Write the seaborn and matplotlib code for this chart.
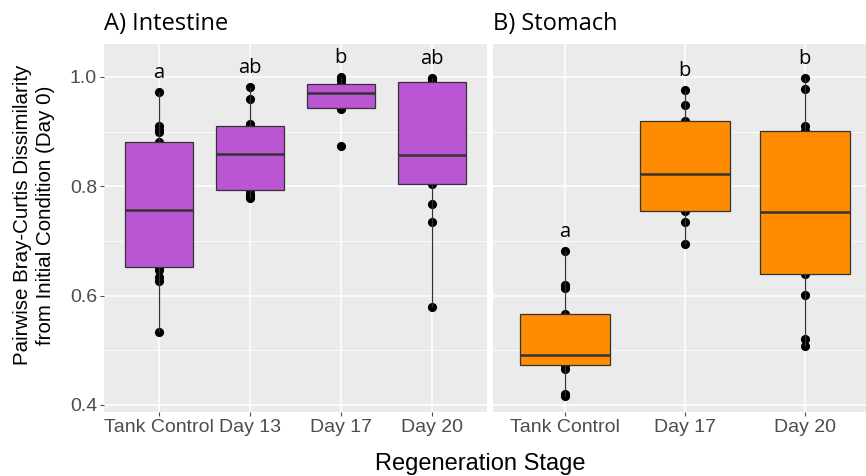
import matplotlib
matplotlib.use("Agg")
import matplotlib.pyplot as plt
import seaborn as sns
import pandas as pd
from matplotlib.ticker import FixedLocator

# ---------------- data ----------------
intestine_stages = ["Tank Control", "Day 13", "Day 17", "Day 20"]
intestine_tank = [0.533, 0.627, 0.635, 0.647, 0.653, 0.69, 0.72, 0.74, 0.757,
                  0.79, 0.83, 0.86, 0.881, 0.899, 0.903, 0.910, 0.972]
intestine_d13 = [0.778, 0.782, 0.786, 0.793, 0.81, 0.84, 0.860, 0.87, 0.89,
                 0.911, 0.914, 0.960, 0.982]
intestine_d17 = [0.873, 0.941, 0.944, 0.960, 0.970, 0.980, 0.988, 0.994, 1.000]
intestine_d20 = [0.580, 0.734, 0.768, 0.804, 0.82, 0.84, 0.857, 0.90, 0.95,
                 0.990, 0.993, 0.996, 0.998]
intestine_letters = ["a", "ab", "b", "ab"]

stomach_stages = ["Tank Control", "Day 17", "Day 20"]
stomach_tank = [0.417, 0.420, 0.465, 0.473, 0.480, 0.486, 0.491, 0.51, 0.54,
                0.566, 0.614, 0.620, 0.682]
stomach_d17 = [0.695, 0.734, 0.754, 0.79, 0.822, 0.87, 0.919, 0.949, 0.976]
stomach_d20 = [0.507, 0.520, 0.601, 0.640, 0.68, 0.72, 0.753, 0.80, 0.86,
               0.901, 0.910, 0.978, 0.998]
stomach_letters = ["a", "b", "b"]

panel_titles = ["A) Intestine", "B) Stomach"]
y_ticks = [0.4, 0.6, 0.8, 1.0]
y_minor = [0.5, 0.7, 0.9]
x_label = "Regeneration Stage"
y_label = "Pairwise Bray-Curtis Dissimilarity\nfrom Initial Condition (Day 0)"

PURPLE = "#BA55D3"
ORANGE = "#FF8C00"
EDGE = "#333333"
TICKC = "#4D4D4D"

# ---------------- figure ----------------
W, H = 866, 476
fig = plt.figure(figsize=(W / 100, H / 100), dpi=100)
plt.rcParams["font.family"] = ["Liberation Sans", "DejaVu Sans"]

top_px, bot_px = 44.3, 411.7
axA = fig.add_axes([104 / W, 1 - bot_px / H, (486.7 - 104) / W, (bot_px - top_px) / H])
axB = fig.add_axes([492.7 / W, 1 - bot_px / H, (W - 492.7) / W, (bot_px - top_px) / H])


def make_df(stages, groups):
    rows_s, rows_v = [], []
    for s, g in zip(stages, groups):
        rows_s += [s] * len(g)
        rows_v += list(g)
    return pd.DataFrame({"stage": rows_s, "value": rows_v})


def draw_panel(ax, stages, groups, color, letters, xlim, show_y):
    df = make_df(stages, groups)
    sns.stripplot(data=df, x="stage", y="value", order=stages, jitter=False,
                  color="black", size=6.6, linewidth=0, ax=ax)
    for c in ax.collections:
        c.set_zorder(1)
    n_coll = len(ax.collections)
    sns.boxplot(data=df, x="stage", y="value", order=stages, color=color,
                saturation=1, width=0.75, showfliers=False, showcaps=False,
                linecolor=EDGE, linewidth=0.9, ax=ax,
                medianprops=dict(color=EDGE, linewidth=1.8))
    for p in ax.patches:
        p.set_zorder(2)
    for ln in ax.lines:
        ln.set_zorder(2.5)
    for c in ax.collections[n_coll:]:
        c.set_zorder(2)
    for i, (g, lt) in enumerate(zip(groups, letters)):
        ax.text(i, max(g) + 0.026, lt, ha="center", va="baseline",
                fontfamily=["Open Sans", "DejaVu Sans"], fontsize=14.5, color="black")
    ax.set_facecolor("#EBEBEB")
    for sp in ax.spines.values():
        sp.set_visible(False)
    ax.set_xlim(*xlim)
    ax.set_ylim(0.3877, 1.0598)
    ax.yaxis.set_major_locator(FixedLocator(y_ticks))
    ax.yaxis.set_minor_locator(FixedLocator(y_minor))
    ax.set_axisbelow(True)
    ax.grid(True, which="major", axis="both", color="white", linewidth=1.1)
    ax.grid(True, which="minor", axis="y", color="white", linewidth=0.55)
    ax.tick_params(axis="both", which="major", length=3, width=0.8, color=TICKC,
                   labelcolor=TICKC, labelsize=14, pad=2)
    ax.tick_params(axis="y", which="minor", length=0)
    ax.set_xlabel("")
    ax.set_ylabel("")
    if not show_y:
        ax.tick_params(axis="y", which="both", length=0, labelleft=False)
    else:
        ax.set_yticklabels([f"{t:.1f}" for t in y_ticks])


draw_panel(axA, intestine_stages,
           [intestine_tank, intestine_d13, intestine_d17, intestine_d20],
           PURPLE, intestine_letters, (-0.6, 3.6), True)
draw_panel(axB, stomach_stages,
           [stomach_tank, stomach_d17, stomach_d20],
           ORANGE, stomach_letters, (-0.6, 2.51), False)

# panel titles
fig.text(104 / W, 1 - 30 / H, panel_titles[0], ha="left", va="baseline",
         fontfamily=["Open Sans", "DejaVu Sans"], fontsize=17, color="black")
fig.text(493 / W, 1 - 30 / H, panel_titles[1], ha="left", va="baseline",
         fontfamily=["Open Sans", "DejaVu Sans"], fontsize=17, color="black")

# axis titles
fig.text(480 / W, 1 - 470 / H, x_label, ha="center", va="baseline",
         fontsize=17, color="black")
fig.text(34 / W, 1 - 215 / H, y_label, ha="center", va="center", rotation=90,
         multialignment="center", fontsize=14.8, color="black", linespacing=1.25)

fig.savefig("out.png", dpi=100)
